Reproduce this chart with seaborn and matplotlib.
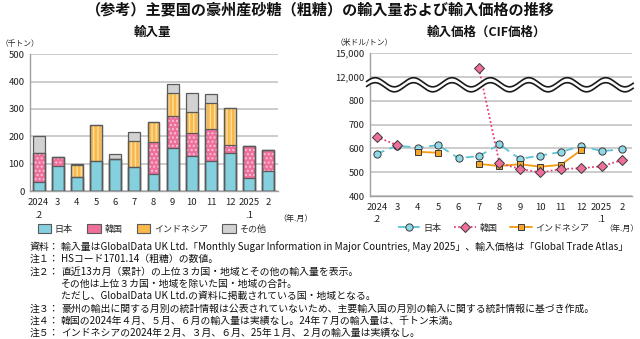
import numpy as np
import pandas as pd
import matplotlib
matplotlib.use("Agg")
import matplotlib.pyplot as plt
import matplotlib.transforms as mtransforms
from matplotlib.patches import Patch
from matplotlib.lines import Line2D
from matplotlib.ticker import FuncFormatter, FixedLocator
import seaborn as sns

# ---------------- data ----------------
months = ["2024\n.2", "3", "4", "5", "6", "7", "8", "9", "10", "11", "12", "2025\n.1", "2"]

vol_japan = [34, 93, 53, 110, 118, 90, 63, 159, 130, 110, 140, 47, 74]
vol_korea = [104, 31, 0, 0, 0, 0, 118, 114, 81, 118, 30, 117, 76]
vol_indonesia = [0, 0, 44, 131, 0, 93, 71, 84, 79, 94, 133, 0, 0]
vol_other = [63, 0, 1, 0, 18, 33, 0, 33, 67, 31, 0, 0, 0]

price_japan = [577, 612, 603, 614, 559, 568, 617, 556, 570, 585, 610, 589, 596]
price_korea = [648, 614, np.nan, np.nan, np.nan, 13100, 538, 514, 499, 513, 517, 525, 551]
price_indonesia = [np.nan, np.nan, 586, 582, np.nan, 535, 526, 534, 523, 531, 593, np.nan, np.nan]

vol_ticks = [0, 100, 200, 300, 400, 500]
price_ticks = [400, 500, 600, 700, 800, 12000, 15000]

series_names = ["日本", "韓国", "インドネシア", "その他"]

title = "（参考）主要国の豪州産砂糖（粗糖）の輸入量および輸入価格の推移"
sub_left = "輸入量"
sub_right = "輸入価格（CIF価格）"
unit_left = "（千トン）"
unit_right = "（米ドル/トン）"
unit_x = "（年.月）"
notes = [
    ("資料：", "輸入量はGlobalData UK Ltd.「Monthly Sugar Information in Major Countries, May 2025」、輸入価格は「Global Trade Atlas」"),
    ("注１：", "HSコード1701.14（粗糖）の数値。"),
    ("注２：", "直近13カ月（累計）の上位３カ国・地域とその他の輸入量を表示。"),
    ("", "その他は上位３カ国・地域を除いた国・地域の合計。"),
    ("", "ただし、GlobalData UK Ltd.の資料に掲載されている国・地域となる。"),
    ("注３：", "豪州の輸出に関する月別の統計情報は公表されていないため、主要輸入国の月別の輸入に関する統計情報に基づき作成。"),
    ("注４：", "韓国の2024年４月、５月、６月の輸入量は実績なし。24年７月の輸入量は、千トン未満。"),
    ("注５：", "インドネシアの2024年２月、３月、６月、25年１月、２月の輸入量は実績なし。"),
]

# ---------------- style ----------------
sns.set_style("white")
plt.rcParams["font.family"] = ["Noto Sans CJK JP", "DejaVu Sans"]
plt.rcParams["hatch.linewidth"] = 1.0

W, H = 640, 339
fig = plt.figure(figsize=(W / 100, H / 100), dpi=100)

def rect(x0, y0, x1, y1):
    return [x0 / W, 1 - y1 / H, (x1 - x0) / W, (y1 - y0) / H]

TXT = "#222222"
GRID = "#c8c8c8"
SPINE = "#a0a0a0"

# ---------------- left: stacked bars ----------------
axL = fig.add_axes(rect(30, 54.2, 278, 191.2))
df = pd.DataFrame({"month": months, "日本": vol_japan, "韓国": vol_korea,
                   "インドネシア": vol_indonesia, "その他": vol_other})
cum = df[series_names].cumsum(axis=1)

bar_fc = {"日本": "#84d0df", "韓国": "#ee6e9c", "インドネシア": "#f8b84c", "その他": "#d2d2d2"}
bar_hc = {"日本": "#9bdbe7", "韓国": "#fbc3d6", "インドネシア": "#fde0a0", "その他": "#d2d2d2"}
bar_hatch = {"日本": None, "韓国": "....", "インドネシア": "||||", "その他": None}
EDGE = "#5a5a5a"
BW = 0.62

for name in reversed(series_names):
    d = pd.DataFrame({"month": months, "v": cum[name].values})
    sns.barplot(data=d, x="month", y="v", ax=axL, color=bar_fc[name], width=BW,
                edgecolor=bar_hc[name], linewidth=0, hatch=bar_hatch[name],
                saturation=1, zorder=2)
    sns.barplot(data=d, x="month", y="v", ax=axL, width=BW, fill=False,
                edgecolor=EDGE, linewidth=0.9, zorder=3)

axL.set_ylim(0, 500)
axL.set_xlim(-0.45, 12.4)
axL.set_yticks(vol_ticks)
axL.yaxis.grid(True, color=GRID, linewidth=1.3, zorder=0)
axL.set_axisbelow(True)
axL.set_xlabel("")
axL.set_ylabel("")
for s in ["top", "right"]:
    axL.spines[s].set_visible(False)
for s in ["left", "bottom"]:
    axL.spines[s].set_color(SPINE)
    axL.spines[s].set_linewidth(1.0)
axL.tick_params(axis="y", length=0, labelsize=6.8, colors=TXT, pad=4)
axL.tick_params(axis="x", length=0, labelsize=6.8, colors=TXT, pad=5)
axL.set_xticks(range(len(months)))
axL.set_xticklabels(months, linespacing=1.5)
axL.set_xticks(np.arange(len(months)) + 0.5, minor=True)
axL.tick_params(axis="x", which="minor", length=2.5, color=SPINE)

# ---------------- right: price lines ----------------
axR = fig.add_axes(rect(370, 53.3, 631.7, 196))
pos_pts = np.arange(len(price_ticks), dtype=float)
vals_pts = np.array(price_ticks, dtype=float)

def fwd(v):
    return np.interp(v, vals_pts, pos_pts)

def inv(p):
    return np.interp(p, pos_pts, vals_pts)

axR.set_yscale("function", functions=(fwd, inv))

x_idx = np.arange(len(months))
pdf = pd.DataFrame({"x": x_idx, "日本": price_japan, "韓国": price_korea, "インドネシア": price_indonesia})

line_style = {
    "日本": dict(color="#5cc3d5", ls=(0, (4.5, 3)), marker="o", mfc="#8fd8e6", ms=5.2),
    "韓国": dict(color="#e8407a", ls=(0, (1, 1.3)), marker="D", mfc="#ef6e9d", ms=4.6),
    "インドネシア": dict(color="#f39a10", ls="-", marker="s", mfc="#f6a52a", ms=5.0),
}

def draw_series(name, zo):
    st = line_style[name]
    s = pdf[["x", name]].copy()
    s["seg"] = s[name].isna().cumsum()
    s = s.dropna()
    for _, g in s.groupby("seg"):
        sns.lineplot(data=g, x="x", y=name, ax=axR, color=st["color"], linestyle=st["ls"],
                     linewidth=1.3, marker=st["marker"], markerfacecolor=st["mfc"],
                     markeredgecolor="#3a3a3a", markeredgewidth=0.7, markersize=st["ms"],
                     zorder=zo, estimator=None, sort=False)

draw_series("日本", 4)
draw_series("インドネシア", 5)
draw_series("韓国", 6)

axR.yaxis.set_major_locator(FixedLocator(price_ticks))
axR.yaxis.set_minor_locator(FixedLocator([]))
axR.yaxis.set_major_formatter(FuncFormatter(lambda v, p: f"{int(round(v)):,}"))
axR.yaxis.grid(True, color=GRID, linewidth=1.3, zorder=0)
axR.set_axisbelow(True)
axR.set_xlabel("")
axR.set_ylabel("")
for s in ["top", "right"]:
    axR.spines[s].set_visible(False)
for s in ["left", "bottom"]:
    axR.spines[s].set_color(SPINE)
    axR.spines[s].set_linewidth(1.0)
axR.tick_params(axis="y", length=0, labelsize=6.8, colors=TXT, pad=4)
axR.tick_params(axis="x", length=0, labelsize=6.8, colors=TXT, pad=5)
axR.set_xticks(x_idx)
axR.set_xticklabels(months, linespacing=1.5)
axR.set_xticks(x_idx + 0.5, minor=True)
axR.tick_params(axis="x", which="minor", length=2.5, color=SPINE)

# axis-break wave (decoration)
tr = mtransforms.blended_transform_factory(axR.transData, axR.transAxes)
xw = np.linspace(-0.5, 12.55, 600)
amp = 0.032
ph = np.cos(2 * np.pi * (xw + 0.08) / 1.88)
y_top = 0.797 + amp * ph
y_bot = 0.762 + amp * ph
axR.fill_between(xw, y_bot, y_top, transform=tr, color="white", zorder=7, clip_on=False, linewidth=0)
axR.plot(xw, y_top, transform=tr, color="#1a1a1a", lw=1.2, zorder=8, clip_on=False)
axR.plot(xw, y_bot, transform=tr, color="#1a1a1a", lw=1.2, zorder=8, clip_on=False)
axR.set_ylim(400, 15000)
axR.set_xlim(-0.33, 12.47)

# ---------------- texts ----------------
def ftext(x, y, s, **kw):
    fig.text(x / W, 1 - y / H, s, **kw)

ftext(320, 9, title, ha="center", va="center", fontsize=10.9, fontweight="bold", color="#111111")
ftext(152, 32, sub_left, ha="center", va="center", fontsize=9, fontweight="bold", color="#111111")
ftext(486, 32, sub_right, ha="center", va="center", fontsize=9, fontweight="bold", color="#111111")
ftext(1, 44, unit_left, ha="left", va="center", fontsize=5.6, color=TXT)
ftext(336, 43, unit_right, ha="left", va="center", fontsize=5.6, color=TXT)
ftext(296, 218, unit_x, ha="center", va="center", fontsize=5.8, color=TXT)
ftext(639, 228, unit_x, ha="right", va="center", fontsize=5.8, color=TXT)

# legends
hL = [Patch(facecolor=bar_fc[n], edgecolor=EDGE, linewidth=0.8) for n in series_names]
legL = fig.legend(hL, series_names, loc="center", bbox_to_anchor=(152 / W, 1 - 229 / H),
                  ncol=4, frameon=False, fontsize=6.5, handlelength=1.5, handleheight=1.0,
                  columnspacing=1.6, handletextpad=0.4)
hR = [Line2D([0], [0], color=line_style[n]["color"], ls=line_style[n]["ls"], lw=1.3,
             marker=line_style[n]["marker"], mfc=line_style[n]["mfc"], mec="#3a3a3a",
             mew=0.7, ms=line_style[n]["ms"]) for n in ["日本", "韓国", "インドネシア"]]
legR = fig.legend(hR, ["日本", "韓国", "インドネシア"], loc="center",
                  bbox_to_anchor=(494 / W, 1 - 228 / H), ncol=3, frameon=False, fontsize=6.5,
                  handlelength=2.4, columnspacing=1.4, handletextpad=0.4)

# notes
y0 = 247
for i, (head, body) in enumerate(notes):
    y = y0 + i * 12.3
    if head:
        ftext(30, y, head, ha="left", va="center", fontsize=7.1, color="#111111")
    ftext(61, y, body, ha="left", va="center", fontsize=7.1, color="#111111")

fig.savefig("out.png", dpi=100, facecolor="white")
